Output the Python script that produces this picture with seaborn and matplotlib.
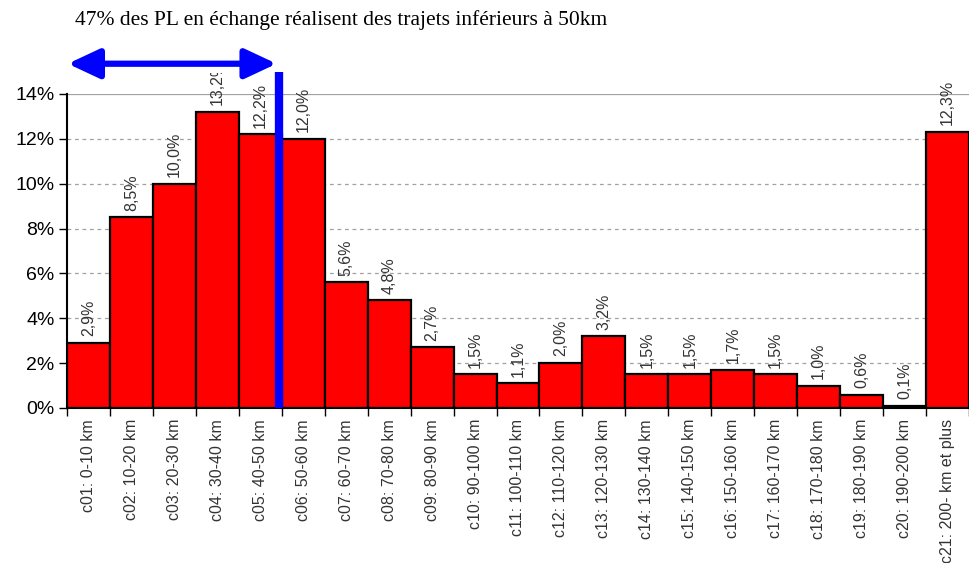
import matplotlib
matplotlib.use("Agg")
import matplotlib.pyplot as plt
from matplotlib.patches import Rectangle
import seaborn as sns
import numpy as np
import pandas as pd

classes = ["c01: 0-10 km", "c02: 10-20 km", "c03: 20-30 km", "c04: 30-40 km",
           "c05: 40-50 km", "c06: 50-60 km", "c07: 60-70 km", "c08: 70-80 km",
           "c09: 80-90 km", "c10: 90-100 km", "c11: 100-110 km", "c12: 110-120 km",
           "c13: 120-130 km", "c14: 130-140 km", "c15: 140-150 km", "c16: 150-160 km",
           "c17: 160-170 km", "c18: 170-180 km", "c19: 180-190 km", "c20: 190-200 km",
           "c21: 200- km et plus"]
shares = [2.9, 8.5, 10.0, 13.2, 12.2, 12.0, 5.6, 4.8, 2.7, 1.5, 1.1, 2.0,
          3.2, 1.5, 1.5, 1.7, 1.5, 1.0, 0.6, 0.1, 12.3]
y_ticks = [0, 2, 4, 6, 8, 10, 12, 14]
title = "47% des PL en échange réalisent des trajets inférieurs à 50km"

sns.set_theme(style="white")
plt.rcParams["font.family"] = ["Liberation Sans", "DejaVu Sans"]

df = pd.DataFrame({"classe": classes, "part": shares})

fig = plt.figure(figsize=(9.69, 5.63), dpi=100)
ax = fig.add_axes([67 / 969, 155 / 563, 1 - 67 / 969, 314 / 563])

# horizontal grid: dashed, with a solid line at the top
for t in y_ticks[1:-1]:
    ax.axhline(t, color="#a0a0a0", lw=0.9, ls=(0, (3, 3)), zorder=0)
ax.axhline(y_ticks[-1], color="#a0a0a0", lw=1.6, zorder=0)

sns.barplot(data=df, x="classe", y="part", color="red", saturation=1,
            width=1.0, edgecolor="black", linewidth=1.6, ax=ax, zorder=2)

n = len(classes)
ax.set_xlim(-0.5, n - 0.5)
ax.set_ylim(0, 14)
ax.set_xlabel("")
ax.set_ylabel("")

# value labels above the bars, clipped to the plotting region
label_area = Rectangle((-0.5, 0), n, 14.95, transform=ax.transData,
                       fill=False, visible=False)
ax.add_patch(label_area)
for i, v in enumerate(shares):
    txt = ax.text(i, v + 0.3, f"{v:.1f}%".replace(".", ","), rotation=90,
                  ha="center", va="bottom", fontsize=11.5, color="#333333",
                  zorder=3)
    txt.set_clip_path(label_area)
    txt.set_clip_on(True)

# y axis
ax.set_yticks(y_ticks)
ax.set_yticklabels([f"{t}%" for t in y_ticks], fontsize=14, color="black")
ax.tick_params(axis="y", which="major", direction="out", length=6,
               width=1, color="black", left=True, pad=3)

# x axis: labels centred under bars, tick marks at bar boundaries
ax.set_xticks(range(n))
ax.set_xticklabels(classes, rotation=90, fontsize=11.5, color="#333333")
ax.tick_params(axis="x", which="major", length=0, pad=8)
ax.set_xticks(np.arange(-0.5, n, 1.0), minor=True)
ax.tick_params(axis="x", which="minor", direction="out", length=6,
               width=1, color="black", bottom=True)

sns.despine(ax=ax, top=True, right=True)
for s in ("left", "bottom"):
    ax.spines[s].set_color("black")
    ax.spines[s].set_linewidth(1.5)

# 50 km threshold marker and span arrow
ax.plot([4.43, 4.43], [0, 15.0], color="blue", lw=6, clip_on=False,
        solid_capstyle="butt", zorder=4)
ax.annotate("", xy=(-0.48, 15.35), xytext=(4.38, 15.35),
            xycoords="data", textcoords="data",
            arrowprops=dict(arrowstyle="<|-|>,head_length=1.6,head_width=0.75",
                            color="blue", lw=4.5, shrinkA=0, shrinkB=0),
            annotation_clip=False, zorder=4)

fig.text(75 / 969, 1 - 20 / 563, title, fontsize=15.5, family=["Liberation Serif"],
         ha="left", va="center", color="black")

fig.savefig("out.png", dpi=100)
